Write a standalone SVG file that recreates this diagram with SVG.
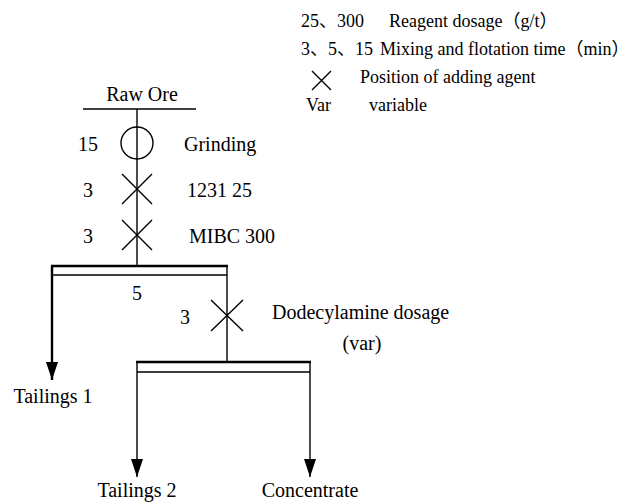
<svg xmlns="http://www.w3.org/2000/svg" width="634" height="502" viewBox="0 0 634 502">
<defs>
<style>
text{font-family:"Liberation Serif","Times New Roman","Noto Sans CJK SC",serif;fill:#000}
.m{font-size:20px}
.l{font-size:18px}
.ln{stroke:#000;stroke-width:1.4;fill:none}
.th{stroke:#000;stroke-width:2.4;fill:none}
</style>
<marker id="ah" viewBox="0 0 18 12" refX="18" refY="6" markerWidth="18" markerHeight="12" markerUnits="userSpaceOnUse" orient="auto">
<path d="M0,0 L18,6 L0,12 Z" fill="#000"/>
</marker>
</defs>
<rect width="634" height="502" fill="#fff"/>
<g id="legend">
<text class="l" x="301" y="27">25、300</text>
<text class="l" x="389" y="27">Reagent dosage（g/t）</text>
<text class="l" x="301" y="55">3、5、15</text>
<text class="l" x="380" y="55">Mixing and flotation time（min）</text>
<path class="ln" d="M312,71 L331,90 M331,71 L312,90"/>
<text class="l" x="360" y="83">Position of adding agent</text>
<text class="l" x="306" y="111">Var</text>
<text class="l" x="369" y="111">variable</text>
</g>
<g id="connectors">
<path class="ln" d="M83,109 H196"/>
<path class="ln" d="M137,109 V266"/>
<path class="ln" d="M227,275 V362"/>
<path class="th" d="M52,266 V380" marker-end="url(#ah)"/>
<path class="ln" d="M137,372 V477" marker-end="url(#ah)"/>
<path class="ln" d="M310,372 V477" marker-end="url(#ah)"/>
</g>
<g id="raw-ore"><text class="m" x="142" y="101" text-anchor="middle">Raw Ore</text></g>
<g id="grinding">
<circle class="ln" cx="137" cy="143" r="16"/>
<text class="m" x="78" y="151">15</text>
<text class="m" x="184" y="151">Grinding</text>
</g>
<g id="add-1231">
<path class="ln" d="M122,174 L152,204 M152,174 L122,204"/>
<text class="m" x="83" y="197">3</text>
<text class="m" x="187" y="197">1231 25</text>
</g>
<g id="add-mibc">
<path class="ln" d="M122,220 L152,250 M152,220 L122,250"/>
<text class="m" x="83" y="243">3</text>
<text class="m" x="189" y="243">MIBC 300</text>
</g>
<g id="flotation-1">
<path class="th" d="M51,266 H228"/>
<path class="ln" d="M52,275 H227 M227,266 V275"/>
<text class="m" x="132" y="300">5</text>
</g>
<g id="add-dodecylamine">
<path class="ln" d="M211,300 L243,331 M243,300 L211,331"/>
<text class="m" x="180" y="324">3</text>
<text class="m" x="272" y="319">Dodecylamine dosage</text>
<text class="m" x="362" y="350" text-anchor="middle">(var)</text>
</g>
<g id="flotation-2">
<path class="th" d="M136,362 H311"/>
<path class="ln" d="M137,362 V372 M310,362 V372 M137,372 H310"/>
</g>
<g id="tailings-1"><text class="m" x="53" y="403" text-anchor="middle">Tailings 1</text></g>
<g id="tailings-2"><text class="m" x="137" y="497" text-anchor="middle">Tailings 2</text></g>
<g id="concentrate"><text class="m" x="310" y="497" text-anchor="middle">Concentrate</text></g>
</svg>
